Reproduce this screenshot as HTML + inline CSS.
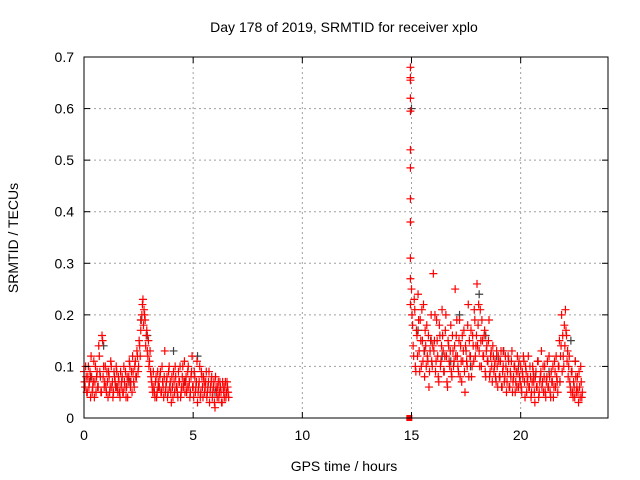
<!DOCTYPE html>
<html><head><meta charset="utf-8"><style>
body{margin:0;background:#fff}
svg{display:block;font-family:"Liberation Sans",sans-serif;font-size:14px}
</style></head><body>
<svg id="chart" width="640" height="480">
<rect width="640" height="480" fill="#fff"/>
<text x="344" y="32" text-anchor="middle">Day 178 of 2019, SRMTID for receiver xplo</text>
<text x="344" y="471" text-anchor="middle">GPS time / hours</text>
<text transform="translate(18,238) rotate(-90)" text-anchor="middle">SRMTID / TECUs</text>
<g id="grid"></g><g id="gray"></g><g id="red"></g><g id="axes"></g>
</svg>
<script>
const xTicks=[0,5,10,15,20];
const yTicks=[0,0.1,0.2,0.3,0.4,0.5,0.6,0.7];
const seg1Start=0, seg1Step=0.05;
const seg1Values=[0.09,0.06,0.08,0.05,0.10,0.07,0.04,0.08,0.06,0.11,0.07,0.05,0.09,0.06,0.12,0.08,0.05,0.15,0.10,0.07,0.06,0.09,0.04,0.08,0.06,0.10,0.07,0.05,0.08,0.06,0.09,0.05,0.07,0.04,0.06,0.08,0.05,0.07,0.09,0.06,0.04,0.08,0.10,0.07,0.05,0.09,0.06,0.11,0.08,0.12,0.10,0.14,0.17,0.20,0.23,0.21,0.19,0.16,0.13,0.15,0.11,0.09,0.07,0.05,0.06,0.04,0.08,0.05,0.07,0.06,0.09,0.05,0.07,0.04,0.13,0.06,0.08,0.05,0.10,0.07,0.03,0.06,0.09,0.05,0.08,0.06,0.04,0.07,0.10,0.05,0.08,0.06,0.11,0.07,0.05,0.09,0.06,0.04,0.08,0.12,0.06,0.09,0.05,0.07,0.03,0.06,0.10,0.05,0.08,0.04,0.07,0.06,0.09,0.05,0.07,0.03,0.06,0.08,0.05,0.07,0.02,0.06,0.04,0.07,0.05,0.06,0.03,0.07,0.05,0.06,0.04,0.07,0.05];
const seg1bStart=0.025;
const seg1bValues=[0.07,0.10,0.05,0.08,0.06,0.09,0.12,0.05,0.07,0.04,0.10,0.08,0.06,0.14,0.09,0.05,0.16,0.08,0.06,0.10,0.05,0.07,0.09,0.05,0.11,0.06,0.04,0.09,0.07,0.10,0.06,0.08,0.05,0.09,0.07,0.05,0.10,0.06,0.04,0.08,0.07,0.11,0.06,0.09,0.12,0.07,0.10,0.08,0.13,0.09,0.15,0.12,0.19,0.22,0.18,0.20,0.14,0.17,0.12,0.10,0.13,0.08,0.06,0.09,0.05,0.07,0.04,0.09,0.06,0.08,0.05,0.10,0.06,0.08,0.05,0.07,0.04,0.09,0.06,0.05,0.08,0.04,0.07,0.10,0.06,0.05,0.09,0.07,0.04,0.06,0.10,0.07,0.05,0.08,0.06,0.10,0.07,0.05,0.09,0.06,0.04,0.08,0.06,0.11,0.05,0.07,0.04,0.09,0.06,0.08,0.05,0.07,0.04,0.06,0.09,0.05,0.07,0.04,0.06,0.03,0.08,0.05,0.06,0.04,0.07,0.05,0.03,0.06,0.04,0.07,0.05,0.06,0.04];
const spikeHour=14.95;
const spikeValues=[0.68,0.66,0.655,0.62,0.595,0.52,0.485,0.425,0.38,0.31,0.27,0.22];
const zeroMarkerHour=14.9;
const seg2Start=15.0, seg2Step=0.05;
const seg2Values=[0.25,0.18,0.12,0.21,0.09,0.16,0.24,0.13,0.19,0.10,0.15,0.22,0.08,0.14,0.18,0.11,0.06,0.13,0.20,0.10,
0.28,0.15,0.09,0.19,0.12,0.07,0.16,0.11,0.21,0.13,0.09,0.17,0.12,0.06,0.14,0.10,0.18,0.08,0.13,0.11,
0.25,0.16,0.12,0.09,0.19,0.14,0.07,0.11,0.17,0.05,0.13,0.10,0.22,0.15,0.12,0.08,0.16,0.11,0.19,0.14,
0.26,0.18,0.13,0.21,0.10,0.15,0.12,0.17,0.08,0.14,0.11,0.19,0.09,0.13,0.07,0.12,0.10,0.08,0.13,0.06,
0.11,0.08,0.13,0.06,0.10,0.07,0.12,0.05,0.09,0.11,0.06,0.08,0.13,0.07,0.10,0.05,0.09,0.12,0.06,0.08,
0.10,0.05,0.08,0.11,0.04,0.09,0.07,0.12,0.06,0.08,0.05,0.10,0.07,0.03,0.09,0.06,0.11,0.05,0.08,0.13,
0.07,0.05,0.10,0.04,0.08,0.06,0.12,0.05,0.09,0.07,0.04,0.11,0.06,0.08,0.05,0.10,0.07,0.14,0.09,0.12,
0.18,0.21,0.16,0.13,0.10,0.07,0.05,0.09,0.04,0.06,0.11,0.05,0.08,0.03,0.06,0.10,0.04];
const seg2bStart=15.025;
const seg2bValues=[0.20,0.14,0.23,0.10,0.17,0.12,0.19,0.09,0.15,0.21,0.11,0.13,0.17,0.10,0.12,0.16,0.09,0.15,0.11,0.14,
0.13,0.20,0.11,0.15,0.08,0.18,0.10,0.14,0.16,0.09,0.12,0.20,0.07,0.15,0.11,0.13,0.09,0.16,0.10,0.14,
0.12,0.19,0.10,0.15,0.08,0.11,0.16,0.13,0.09,0.14,0.11,0.18,0.08,0.12,0.17,0.10,0.14,0.21,0.12,0.16,
0.14,0.22,0.10,0.15,0.19,0.12,0.16,0.09,0.13,0.11,0.15,0.08,0.12,0.10,0.14,0.09,0.11,0.07,0.10,0.12,
0.08,0.11,0.06,0.09,0.13,0.08,0.10,0.07,0.12,0.06,0.09,0.11,0.05,0.08,0.10,0.07,0.06,0.09,0.11,0.07,
0.06,0.09,0.12,0.07,0.10,0.05,0.08,0.06,0.10,0.04,0.07,0.09,0.05,0.08,0.06,0.11,0.04,0.07,0.09,0.06,
0.10,0.08,0.05,0.07,0.11,0.06,0.08,0.04,0.07,0.10,0.06,0.09,0.12,0.07,0.10,0.15,0.12,0.20,0.16,0.10,
0.14,0.17,0.11,0.08,0.12,0.06,0.09,0.05,0.07,0.04,0.08,0.06,0.05,0.09,0.04,0.07,0.05];
const grayHours=[0.3,0.9,1.5,2.1,2.6,2.9,3.4,4.1,4.6,5.2,6.0,15.0,15.3,15.6,15.9,16.4,16.8,17.2,17.7,18.1,18.4,18.9,19.2,19.9,20.6,21.3,21.8,22.3,22.5];
const grayValues=[0.08,0.14,0.06,0.07,0.19,0.16,0.06,0.13,0.07,0.12,0.05,0.6,0.17,0.13,0.15,0.12,0.11,0.2,0.1,0.24,0.16,0.12,0.13,0.1,0.08,0.09,0.07,0.15,0.11];
const L=84,R=608,T=57,B=418;
const xs=h=>L+(h/24)*(R-L);
const ys=v=>B-(v/0.7)*(B-T);
const NS="http://www.w3.org/2000/svg";
function mk(tag,attrs,parent){const e=document.createElementNS(NS,tag);for(const k in attrs)e.setAttribute(k,attrs[k]);parent.appendChild(e);return e;}
const grid=document.getElementById('grid'),axes=document.getElementById('axes');
xTicks.forEach(t=>{const x=xs(t);
 if(t>0){const g=mk('line',{x1:x,y1:T,x2:x,y2:B,stroke:'#a0a0a0','stroke-dasharray':'2,3'},grid);
 
 }
 mk('line',{x1:x,y1:B,x2:x,y2:B-6,stroke:'#000'},axes);mk('line',{x1:x,y1:T,x2:x,y2:T+6,stroke:'#000'},axes);
 const tx=mk('text',{x:x,y:B+22,'text-anchor':'middle'},axes);tx.textContent=t;
 
 });
yTicks.forEach(t=>{const y=ys(t);
 if(t>0&&t<0.7){const g=mk('line',{x1:L,y1:y,x2:R,y2:y,stroke:'#a0a0a0','stroke-dasharray':'2,3'},grid);
 
 }
 mk('line',{x1:L,y1:y,x2:L+6,y2:y,stroke:'#000'},axes);mk('line',{x1:R,y1:y,x2:R-6,y2:y,stroke:'#000'},axes);
 const tx=mk('text',{x:L-10,y:y+5,'text-anchor':'end'},axes);tx.textContent=t===0?'0':t.toFixed(1);
 
 });
const frame=mk('rect',{x:L,y:T,width:R-L,height:B-T,fill:'none',stroke:'#000'},axes);


function plus(h,v,color,parent,name){const x=xs(h),y=ys(v);
 const p=mk('path',{d:`M${x-4},${y}h8M${x},${y-4}v8`,stroke:color,'stroke-width':1.2,fill:'none'},parent);
 
 }
const gray=document.getElementById('gray'),red=document.getElementById('red');
grayHours.forEach((h,i)=>plus(h,grayValues[i],'#404040',gray,'gray-point'));
seg1Values.forEach((v,i)=>plus(seg1Start+i*seg1Step,v,'#ff0000',red,'red-point'));
seg1bValues.forEach((v,i)=>plus(seg1bStart+i*seg1Step,v,'#ff0000',red,'red-point'));
spikeValues.forEach(v=>plus(spikeHour,v,'#ff0000',red,'red-point'));
seg2Values.forEach((v,i)=>plus(seg2Start+i*seg2Step,v,'#ff0000',red,'red-point'));
seg2bValues.forEach((v,i)=>plus(seg2bStart+i*seg2Step,v,'#ff0000',red,'red-point'));
const sq=mk('rect',{x:xs(zeroMarkerHour)-3,y:ys(0)-3,width:6,height:6,fill:'#ff0000'},red);


</script>
</body></html>
